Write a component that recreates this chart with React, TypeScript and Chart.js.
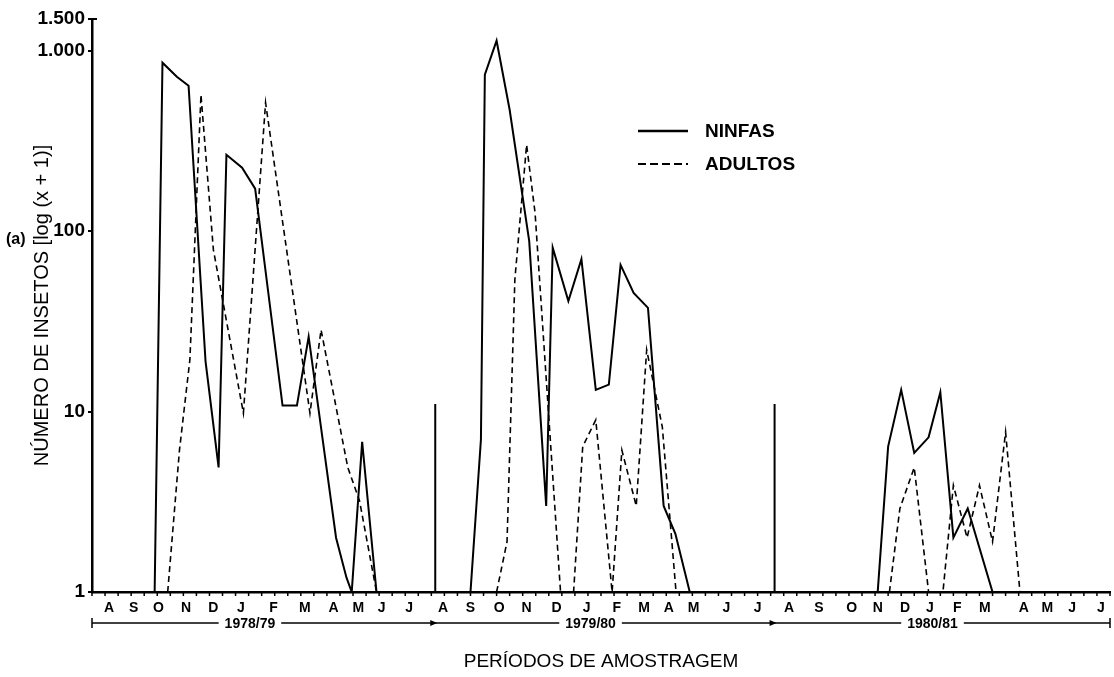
import React, { useEffect, useRef } from 'react';
import { Chart, registerables } from 'chart.js';

Chart.register(...registerables);

// ---- Data (x = biweekly sampling index, 0..78 covers Aug/1978 - Jul/1981) ----
const monthLabels = [
  'A', 'S', 'O', 'N', 'D', 'J', 'F', 'M', 'A', 'M', 'J', 'J',
  'A', 'S', 'O', 'N', 'D', 'J', 'F', 'M', 'A', 'M', 'J', 'J',
  'A', 'S', 'O', 'N', 'D', 'J', 'F', 'M', 'A', 'M', 'J', 'J',
];
const monthPositions = [
  1.3, 3.2, 5.1, 7.2, 9.3, 11.4, 13.9, 16.3, 18.5, 20.4, 22.2, 24.3,
  26.9, 29.0, 31.2, 33.3, 35.6, 37.9, 40.2, 42.3, 44.2, 46.1, 48.6, 51.0,
  53.4, 55.7, 58.2, 60.2, 62.3, 64.2, 66.3, 68.4, 71.4, 73.2, 75.1, 77.3,
];
const yearLabels = ['1978/79', '1979/80', '1980/81'];
const yearLabelPositions = [12.1, 38.2, 64.4];
const yearBoundaries = [26.3, 52.3];
const boundaryHeight = 11;
const xMin = 0;
const xMax = 78;

const yTickValues = [1, 10, 100, 1000, 1500];
const yTickLabels = ['1', '10', '100', '1.000', '1.500'];

const ninfasX = [
  4.8, 5.4, 6.5, 7.4, 8.7, 9.7, 10.3, 11.5, 12.5, 14.6, 15.7, 16.6, 18.7, 19.5, 19.9, 20.7, 21.8,
  25,
  29.0, 29.8, 30.1, 31.0, 32.0, 33.5, 34.8, 35.3, 36.5, 37.5, 38.6, 39.6, 40.5, 41.5, 42.6, 43.8, 44.7, 45.8,
  50,
  60.2, 61.0, 62.0, 63.0, 64.1, 65.0, 66.0, 67.1, 69.0,
];
const ninfasY = [
  1, 859, 718, 640, 19, 4.9, 265, 225, 172, 10.8, 10.8, 26, 2.0, 1.2, 1, 6.8, 1,
  null,
  1, 7, 737, 1137, 471, 88, 3.0, 81, 41, 70, 13.2, 14.1, 65, 45.5, 37.6, 3.0, 2.1, 1,
  null,
  1, 6.4, 13.2, 5.9, 7.2, 12.8, 2.0, 2.9, 1,
];

const adultosX = [
  5.8, 6.7, 7.5, 8.35, 9.3, 11.6, 13.3, 16.7, 17.55, 19.6, 20.5, 21.8,
  25,
  31.0, 31.8, 32.4, 33.3, 33.95, 35.9, 36.9, 37.6, 38.6, 39.85, 40.6, 41.7, 42.5, 43.7, 44.75,
  50,
  61.1, 61.9, 63.0, 64.1, 65.2, 66.0, 67.05, 68.0, 69.0, 70.0, 71.1,
];
const adultosY = [
  1, 6.1, 19.4, 571, 79, 9.8, 515, 9.8, 28.4, 4.9, 3.2, 1,
  null,
  1, 1.9, 54, 301, 126, 1, 1, 6.4, 9.0, 1, 6.1, 3.0, 22, 8.2, 1,
  null,
  1, 2.9, 4.9, 1, 1, 3.9, 2.0, 3.9, 1.9, 7.7, 1,
];

const FONT = "'Liberation Sans', Arial, Helvetica, sans-serif";

function zip(xs: number[], ys: (number | null)[]) {
  return xs.map((x, i) => ({ x, y: ys[i] }));
}

function separatorData() {
  const pts: { x: number; y: number | null }[] = [];
  yearBoundaries.forEach((b, i) => {
    if (i > 0) pts.push({ x: (yearBoundaries[i - 1] + b) / 2, y: null });
    pts.push({ x: b, y: 1 });
    pts.push({ x: b, y: boundaryHeight });
  });
  return pts;
}

const decorPlugin = {
  id: 'decor',
  afterDraw(chart: any) {
    const ctx = chart.ctx as CanvasRenderingContext2D;
    const xs = chart.scales.x;
    const area = chart.chartArea;
    ctx.save();
    ctx.strokeStyle = '#000';
    ctx.fillStyle = '#000';

    // small sampling ticks below x axis
    ctx.lineWidth = 1.5;
    for (let v = xMin; v <= xMax; v++) {
      const px = xs.getPixelForValue(v);
      ctx.beginPath();
      ctx.moveTo(px, area.bottom);
      ctx.lineTo(px, area.bottom + 4);
      ctx.stroke();
    }

    // top tick of y axis pointing right
    ctx.lineWidth = 2;
    ctx.beginPath();
    ctx.moveTo(area.left, area.top);
    ctx.lineTo(area.left + 5, area.top);
    ctx.stroke();

    // year bracket
    const by = 623;
    ctx.font = `bold 14px ${FONT}`;
    ctx.textAlign = 'center';
    ctx.textBaseline = 'middle';
    const gaps: [number, number][] = [];
    yearLabels.forEach((lab, i) => {
      const cx = xs.getPixelForValue(yearLabelPositions[i]);
      const w = ctx.measureText(lab).width;
      ctx.fillText(lab, cx, by + 1);
      gaps.push([cx - w / 2 - 6, cx + w / 2 + 6]);
    });
    ctx.lineWidth = 1.5;
    let start = area.left;
    gaps.forEach(([g0, g1]) => {
      ctx.beginPath();
      ctx.moveTo(start, by);
      ctx.lineTo(g0, by);
      ctx.stroke();
      start = g1;
    });
    ctx.beginPath();
    ctx.moveTo(start, by);
    ctx.lineTo(area.right, by);
    ctx.stroke();
    [area.left, area.right].forEach((ex) => {
      ctx.beginPath();
      ctx.moveTo(ex, by - 5);
      ctx.lineTo(ex, by + 5);
      ctx.stroke();
    });
    yearBoundaries.forEach((b) => {
      const px = xs.getPixelForValue(b);
      ctx.beginPath();
      ctx.moveTo(px + 2, by);
      ctx.lineTo(px - 5, by - 3);
      ctx.lineTo(px - 5, by + 3);
      ctx.closePath();
      ctx.fill();
    });

    // legend
    const legendY = [131, 164];
    ctx.textAlign = 'left';
    ctx.font = `bold 19px ${FONT}`;
    [0, 1].forEach((di) => {
      const ds = chart.data.datasets[di];
      ctx.lineWidth = di === 0 ? 2.5 : 2.2;
      ctx.setLineDash(di === 0 ? [] : [8, 4]);
      ctx.beginPath();
      ctx.moveTo(638, legendY[di]);
      ctx.lineTo(688, legendY[di]);
      ctx.stroke();
      ctx.setLineDash([]);
      ctx.fillText(ds.label, 705, legendY[di] + 1);
    });

    // panel letter
    ctx.font = `bold 16px ${FONT}`;
    ctx.fillText('(a)', 6, 240);

    ctx.restore();
  },
};

export default function App() {
  const ref = useRef<HTMLCanvasElement | null>(null);
  useEffect(() => {
    if (!ref.current) return;
    const chart = new Chart(ref.current, {
      type: 'line',
      data: {
        datasets: [
          {
            label: 'NINFAS',
            data: zip(ninfasX, ninfasY),
            borderColor: '#000',
            borderWidth: 2,
            pointRadius: 0,
            tension: 0,
            spanGaps: false,
          },
          {
            label: 'ADULTOS',
            data: zip(adultosX, adultosY),
            borderColor: '#000',
            borderWidth: 1.6,
            borderDash: [6, 4],
            pointRadius: 0,
            tension: 0,
            spanGaps: false,
          },
          {
            label: 'limite',
            data: separatorData(),
            borderColor: '#000',
            borderWidth: 2,
            pointRadius: 0,
            spanGaps: false,
          },
        ] as any,
      },
      options: {
        responsive: false,
        animation: false,
        layout: { padding: { left: 0, top: 19, right: 4, bottom: 0 } },
        plugins: { legend: { display: false }, tooltip: { enabled: false } },
        scales: {
          x: {
            type: 'linear',
            min: xMin,
            max: xMax,
            afterBuildTicks: (s: any) => {
              s.ticks = monthPositions.map((v) => ({ value: v }));
            },
            afterFit: (s: any) => {
              s.height = 85;
            },
            ticks: {
              autoSkip: false,
              maxRotation: 0,
              padding: 8,
              color: '#000',
              font: { family: FONT, size: 14, weight: 'bold' },
              callback: (_v: any, i: number) => monthLabels[i],
            },
            grid: { display: false, drawTicks: false },
            border: { display: true, color: '#000', width: 2.5 },
            title: {
              display: true,
              text: 'PERÍODOS DE AMOSTRAGEM',
              color: '#000',
              font: { family: FONT, size: 19, weight: 'normal' },
              padding: { top: 0, bottom: 4 },
            },
          },
          y: {
            type: 'logarithmic',
            min: 1,
            max: 1500,
            afterBuildTicks: (s: any) => {
              s.ticks = yTickValues.map((v) => ({ value: v }));
            },
            afterFit: (s: any) => {
              s.width = 92;
            },
            ticks: {
              autoSkip: false,
              padding: 3,
              color: '#000',
              font: { family: FONT, size: 19, weight: 'bold' },
              callback: (_v: any, i: number) => yTickLabels[i],
            },
            grid: { drawOnChartArea: false, drawTicks: true, tickLength: 4, color: '#000', lineWidth: 2 },
            border: { display: true, color: '#000', width: 2.5 },
            title: {
              display: true,
              text: 'NÚMERO DE INSETOS [log (x + 1)]',
              color: '#000',
              font: { family: FONT, size: 20, weight: 'normal' },
              padding: { top: 30, bottom: 0 },
            },
          },
        },
      } as any,
      plugins: [decorPlugin],
    });
    return () => chart.destroy();
  }, []);

  return (
    <div style={{ position: 'absolute', left: 0, top: 0, width: 1114, height: 677, background: '#fff' }}>
      <canvas ref={ref} width={1114} height={677} style={{ display: 'block' }} />
    </div>
  );
}
